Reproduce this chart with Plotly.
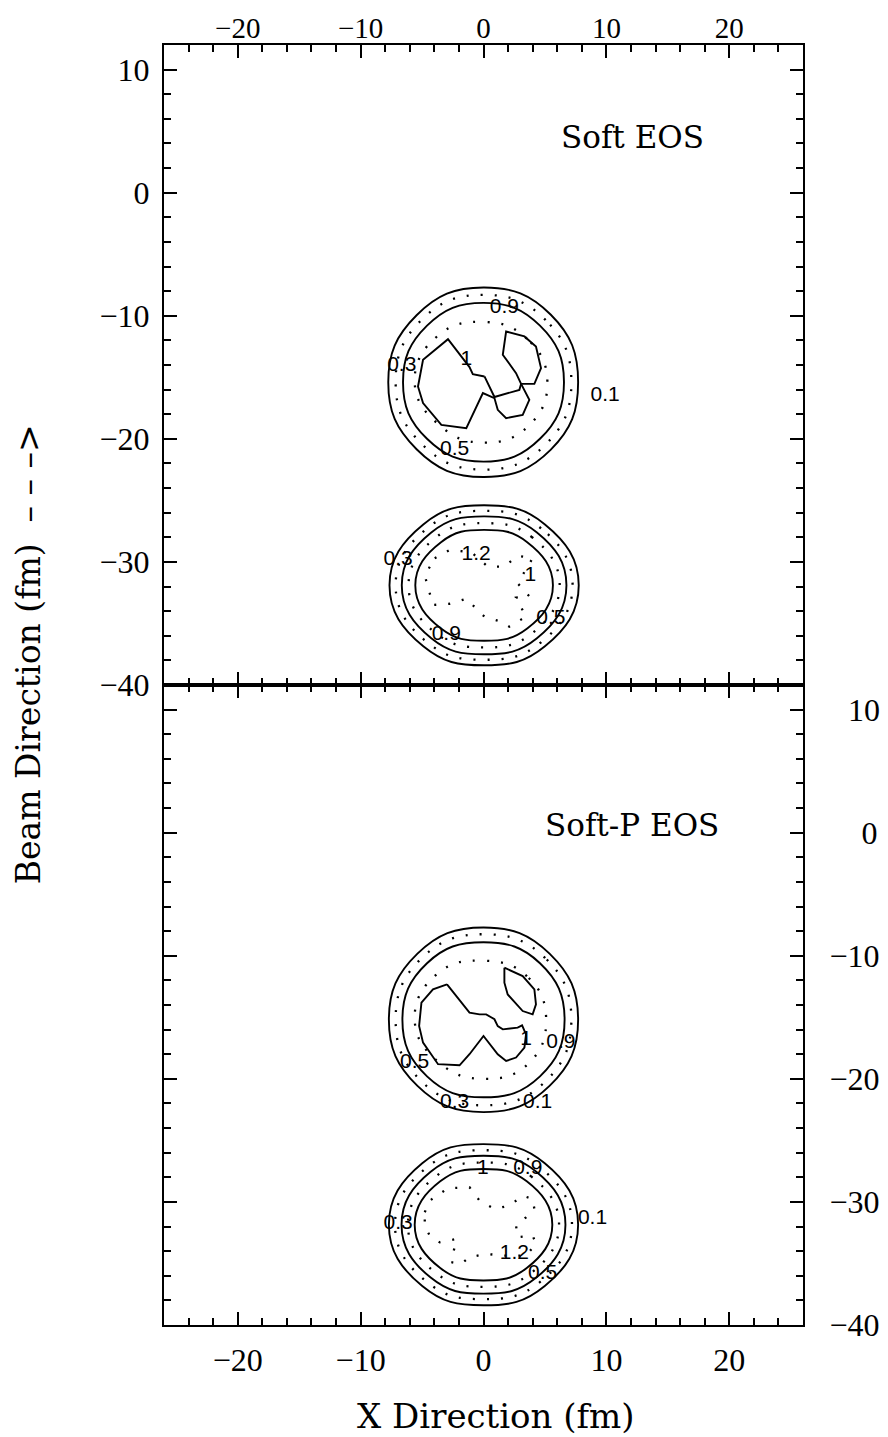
import numpy as np
import plotly.graph_objects as go

# ---------------- data ----------------
ANGLES_DEG = [0, 45, 90, 135, 180, 225, 270, 315]
LEVELS = ["0.1", "0.3", "0.5", "0.9", "1", "1.2"]
DOTTED_LEVELS = ["0.3", "0.9", "1.2"]

# Soft EOS (upper panel) - upper droplet
SOFT_UP_CENTER = (0.0, -15.4)
SOFT_UP_R_01 = [7.7, 7.75, 7.7, 7.7, 7.75, 7.7, 7.7, 7.75]
SOFT_UP_R_03 = [7.15, 7.15, 7.1, 7.15, 7.15, 7.1, 7.1, 7.15]
SOFT_UP_R_05 = [6.55, 6.5, 6.45, 6.5, 6.55, 6.5, 6.45, 6.5]
SOFT_UP_R_09 = [5.2, 5.0, 4.9, 5.3, 5.6, 5.0, 4.9, 5.1]
SOFT_UP_L1_A_X = [0.08, -0.87, -1.14, -2.89, -4.92, -5.33, -4.92, -3.43, -1.40, -0.05,
                  0.89, 1.16, 1.84, 3.19, 3.73, 3.33, 3.06]
SOFT_UP_L1_A_Y = [-14.93, -14.74, -14.17, -11.90, -13.58, -15.75, -17.10, -18.86, -19.13, -16.28,
                  -16.69, -17.64, -18.32, -18.05, -16.83, -16.02, -15.53]
SOFT_UP_L1_B_X = [0.08, 0.89, 2.92, 3.06, 4.14, 4.68, 4.27, 3.33, 1.84, 1.57, 2.65, 3.06]
SOFT_UP_L1_B_Y = [-14.93, -16.60, -16.02, -15.53, -15.53, -14.25, -12.50, -11.68, -11.28, -13.17,
                  -14.66, -15.53]

# Soft EOS - lower droplet
SOFT_LO_CENTER = (0.05, -31.9)
SOFT_LO_R_01 = [7.7, 7.0, 6.5, 7.0, 7.7, 7.0, 6.5, 7.0]
SOFT_LO_R_03 = [7.2, 6.55, 6.05, 6.55, 7.2, 6.55, 6.05, 6.55]
SOFT_LO_R_05 = [6.7, 6.08, 5.6, 6.08, 6.7, 6.08, 5.6, 6.08]
SOFT_LO_R_09 = [6.15, 5.52, 5.05, 5.52, 6.15, 5.52, 5.05, 5.52]
SOFT_LO_R_1 = [5.6, 4.96, 4.5, 4.96, 5.6, 4.96, 4.5, 4.96]
SOFT_LO_L12_X = [-3.97, -2.76, -1.0, 0.35, 1.70, 2.78, 4.0, 2.78, 3.73, 2.65, 3.46, 2.1,
                 1.43, 0.08, -1.40, -2.76, -4.11, -4.78, -3.97]
SOFT_LO_L12_Y = [-29.70, -29.03, -29.2, -30.38, -30.38, -29.50, -29.70, -31.74, -32.80, -32.90,
                 -34.45, -35.26, -34.85, -34.45, -33.00, -33.40, -33.50, -31.10, -29.70]

# Soft-P EOS (lower panel) - upper droplet
SOFTP_UP_CENTER = (0.0, -15.2)
SOFTP_UP_R_01 = [7.7, 7.6, 7.5, 7.6, 7.7, 7.6, 7.5, 7.6]
SOFTP_UP_R_03 = [7.15, 7.1, 6.95, 7.1, 7.15, 7.1, 6.95, 7.1]
SOFTP_UP_R_05 = [6.6, 6.5, 6.3, 6.5, 6.6, 6.5, 6.3, 6.5]
SOFTP_UP_R_09 = [5.1, 5.0, 4.8, 5.3, 5.6, 5.0, 4.8, 5.1]
SOFTP_UP_L1_A_X = [-2.97, -1.14, -0.32, 0.22, 0.89, 1.16, 1.57, 2.78, 3.14, 3.46, 3.33, 2.65,
                   1.84, 1.16, 0.0, -1.14, -1.95, -3.70, -4.92, -5.24, -5.05, -4.11, -2.97]
SOFTP_UP_L1_A_Y = [-12.33, -14.62, -14.76, -14.76, -15.16, -15.71, -15.98, -15.84, -15.65, -16.38,
                   -17.46, -18.27, -18.55, -18.00, -16.52, -18.00, -18.90, -18.81, -17.06, -15.71,
                   -13.81, -12.73, -12.33]
SOFTP_UP_L1_B_X = [1.70, 3.19, 4.14, 4.27, 4.0, 3.19, 1.97, 1.70, 1.70]
SOFTP_UP_L1_B_Y = [-10.97, -11.65, -12.73, -13.95, -14.76, -14.49, -13.14, -12.19, -10.97]

# Soft-P EOS - lower droplet
SOFTP_LO_CENTER = (0.0, -31.85)
SOFTP_LO_R_01 = [7.7, 7.05, 6.55, 7.05, 7.7, 7.05, 6.55, 7.05]
SOFTP_LO_R_03 = [7.2, 6.55, 6.05, 6.55, 7.2, 6.55, 6.05, 6.55]
SOFTP_LO_R_05 = [6.67, 6.08, 5.6, 6.08, 6.67, 6.08, 5.6, 6.08]
SOFTP_LO_R_09 = [6.15, 5.52, 5.05, 5.52, 6.15, 5.52, 5.05, 5.52]
SOFTP_LO_R_1 = [5.6, 4.98, 4.53, 4.98, 5.6, 4.98, 4.53, 4.98]
SOFTP_LO_L12_X = [-4.78, -4.38, -2.90, -1.14, -0.32, 0.89, 2.11, 3.19, 4.0, 4.14, 3.46, 2.65,
                  2.78, 4.0, 4.27, 3.46, 1.57, 0.22, -1.14, -1.81, -2.62, -2.21, -3.57, -4.38,
                  -4.78, -4.78]
SOFTP_LO_L12_Y = [-30.84, -29.90, -28.89, -28.81, -29.90, -30.57, -30.30, -29.50, -29.76, -30.57,
                  -31.25, -31.93, -32.87, -32.74, -33.41, -34.36, -34.36, -34.22, -34.49, -35.04,
                  -34.90, -33.01, -33.28, -32.74, -31.93, -30.84]

# contour labels
SOFT_LABEL_TEXT = ["0.9", "0.3", "1", "0.5", "0.1", "0.3", "1.2", "1", "0.5", "0.9"]
SOFT_LABEL_X = [1.7, -6.65, -1.4, -2.35, 9.9, -6.95, -0.6, 3.81, 5.49, -3.03]
SOFT_LABEL_Y = [-9.35, -14.1, -13.6, -20.9, -16.5, -29.84, -29.43, -31.14, -34.58, -35.93]
SOFTP_LABEL_TEXT = ["1", "0.9", "0.5", "0.3", "0.1", "1", "0.9", "0.3", "0.1", "1.2", "0.5"]
SOFTP_LABEL_X = [3.46, 6.3, -5.6, -2.35, 4.4, -0.05, 3.6, -6.95, 8.87, 2.51, 4.81]
SOFTP_LABEL_Y = [-16.79, -17.06, -18.68, -21.92, -21.92, -27.33, -27.27, -31.8, -31.33, -34.23,
                 -35.85]

PANEL_TITLES = ["Soft EOS", "Soft-P EOS"]
PANEL_TITLE_X = [12.1, 12.1]
PANEL_TITLE_Y = [4.5, 0.6]

X_RANGE = [-26, 26]
Y_RANGE = [-40, 12]
X_TICK_VALUES = [-20, -10, 0, 10, 20]
X_TICK_TEXT = ["\u221220", "\u221210", "0", "10", "20"]
Y_TICK_VALUES = [10, 0, -10, -20, -30, -40]
Y_TICK_TEXT = ["10", "0", "\u221210", "\u221220", "\u221230", "\u221240"]
# right-hand axis labels are right-aligned in the original
Y_TICK_TEXT_RIGHT = ["\u2007\u200a10", "\u2007\u20070", "\u221210", "\u221220", "\u221230", "\u221240"]
X_TITLE = "X Direction (fm)"
Y_TITLE = "Beam Direction (fm)  \u2013 \u2013 \u2013>"

# ---------------- figure ----------------
SOLID = dict(color="black", width=1.9)
DOTTED = dict(color="black", width=2.3, dash="2px,12px")


def ring(center, radii):
    a = np.deg2rad(np.array(ANGLES_DEG + [ANGLES_DEG[0]], dtype=float))
    r = np.array(list(radii) + [radii[0]], dtype=float)
    return center[0] + r * np.cos(a), center[1] + r * np.sin(a)


fig = go.Figure()


def add_ring(center, radii, level, xa, ya):
    x, y = ring(center, radii)
    style = DOTTED if level in DOTTED_LEVELS else SOLID
    fig.add_trace(go.Scatter(x=x, y=y, mode="lines", line=dict(shape="spline", smoothing=1.3, **style),
                             xaxis=xa, yaxis=ya, showlegend=False, hoverinfo="skip"))


def add_path(xs, ys, level, xa, ya):
    style = DOTTED if level in DOTTED_LEVELS else SOLID
    fig.add_trace(go.Scatter(x=xs, y=ys, mode="lines", line=dict(shape="linear", **style),
                             xaxis=xa, yaxis=ya, showlegend=False, hoverinfo="skip"))


# upper panel
for r, lv in zip([SOFT_UP_R_01, SOFT_UP_R_03, SOFT_UP_R_05, SOFT_UP_R_09], LEVELS):
    add_ring(SOFT_UP_CENTER, r, lv, "x", "y")
add_path(SOFT_UP_L1_A_X, SOFT_UP_L1_A_Y, "1", "x", "y")
add_path(SOFT_UP_L1_B_X, SOFT_UP_L1_B_Y, "1", "x", "y")
for r, lv in zip([SOFT_LO_R_01, SOFT_LO_R_03, SOFT_LO_R_05, SOFT_LO_R_09, SOFT_LO_R_1], LEVELS):
    add_ring(SOFT_LO_CENTER, r, lv, "x", "y")
add_path(SOFT_LO_L12_X, SOFT_LO_L12_Y, "1.2", "x", "y")

# lower panel
for r, lv in zip([SOFTP_UP_R_01, SOFTP_UP_R_03, SOFTP_UP_R_05, SOFTP_UP_R_09], LEVELS):
    add_ring(SOFTP_UP_CENTER, r, lv, "x2", "y2")
add_path(SOFTP_UP_L1_A_X, SOFTP_UP_L1_A_Y, "1", "x2", "y2")
add_path(SOFTP_UP_L1_B_X, SOFTP_UP_L1_B_Y, "1", "x2", "y2")
for r, lv in zip([SOFTP_LO_R_01, SOFTP_LO_R_03, SOFTP_LO_R_05, SOFTP_LO_R_09, SOFTP_LO_R_1], LEVELS):
    add_ring(SOFTP_LO_CENTER, r, lv, "x2", "y2")
add_path(SOFTP_LO_L12_X, SOFTP_LO_L12_Y, "1.2", "x2", "y2")

LABEL_FONT = dict(family="Liberation Sans", size=21, color="black")
fig.add_trace(go.Scatter(x=SOFT_LABEL_X, y=SOFT_LABEL_Y, text=SOFT_LABEL_TEXT, mode="text",
                         textfont=LABEL_FONT, xaxis="x", yaxis="y", showlegend=False,
                         hoverinfo="skip"))
fig.add_trace(go.Scatter(x=SOFTP_LABEL_X, y=SOFTP_LABEL_Y, text=SOFTP_LABEL_TEXT, mode="text",
                         textfont=LABEL_FONT, xaxis="x2", yaxis="y2", showlegend=False,
                         hoverinfo="skip"))

TITLE_FONT = dict(family="DejaVu Serif", size=31, color="black")
for i, (xa, ya) in enumerate([("x", "y"), ("x2", "y2")]):
    fig.add_annotation(x=PANEL_TITLE_X[i], y=PANEL_TITLE_Y[i], xref=xa, yref=ya, text=PANEL_TITLES[i],
                       showarrow=False, font=TITLE_FONT)

TICK_FONT = dict(family="Liberation Serif", size=32, color="black")
MINOR = dict(tick0=0, dtick=2, ticks="inside", ticklen=7, tickwidth=1.5, tickcolor="black",
             showgrid=False)
common = dict(ticks="inside", ticklen=13, tickwidth=1.5, tickcolor="black", showline=True,
              linecolor="black", linewidth=2, mirror="allticks", showgrid=False, zeroline=False,
              automargin=False, minor=MINOR)

fig.update_layout(
    width=888, height=1437,
    margin=dict(l=156, r=93, t=37, b=120, autoexpand=False),
    paper_bgcolor="white", plot_bgcolor="white",
    xaxis=dict(side="top", anchor="y", range=X_RANGE, tickmode="array", tickvals=X_TICK_VALUES,
               ticktext=X_TICK_TEXT, ticklabelstandoff=-7,
               tickfont=dict(family="Liberation Serif", size=29, color="black"), **common),
    yaxis=dict(side="left", anchor="x", domain=[0.5, 1.0], range=Y_RANGE, tickmode="array",
               tickvals=Y_TICK_VALUES, ticktext=Y_TICK_TEXT, ticklabelstandoff=6,
               tickfont=TICK_FONT, **common),
    xaxis2=dict(side="bottom", anchor="y2", range=X_RANGE, tickmode="array", tickvals=X_TICK_VALUES,
                ticktext=X_TICK_TEXT, ticklabelstandoff=6, tickfont=TICK_FONT, **common),
    yaxis2=dict(side="right", anchor="x2", domain=[0.0, 0.5], range=Y_RANGE, tickmode="array",
                tickvals=Y_TICK_VALUES, ticktext=Y_TICK_TEXT_RIGHT, ticklabelstandoff=18,
                tickfont=TICK_FONT, **common),
    showlegend=False,
)

AXIS_TITLE_FONT = dict(family="DejaVu Serif", size=34, color="black")
fig.add_annotation(x=0.52, y=-0.071, xref="paper", yref="paper", text=X_TITLE, showarrow=False,
                   font=AXIS_TITLE_FONT, xanchor="center", yanchor="middle")
fig.add_annotation(x=-0.213, y=0.524, xref="paper", yref="paper", text=Y_TITLE, showarrow=False,
                   font=dict(family="DejaVu Serif", size=33, color="black"), textangle=-90,
                   xanchor="center", yanchor="middle")

fig.write_html("out.html")
